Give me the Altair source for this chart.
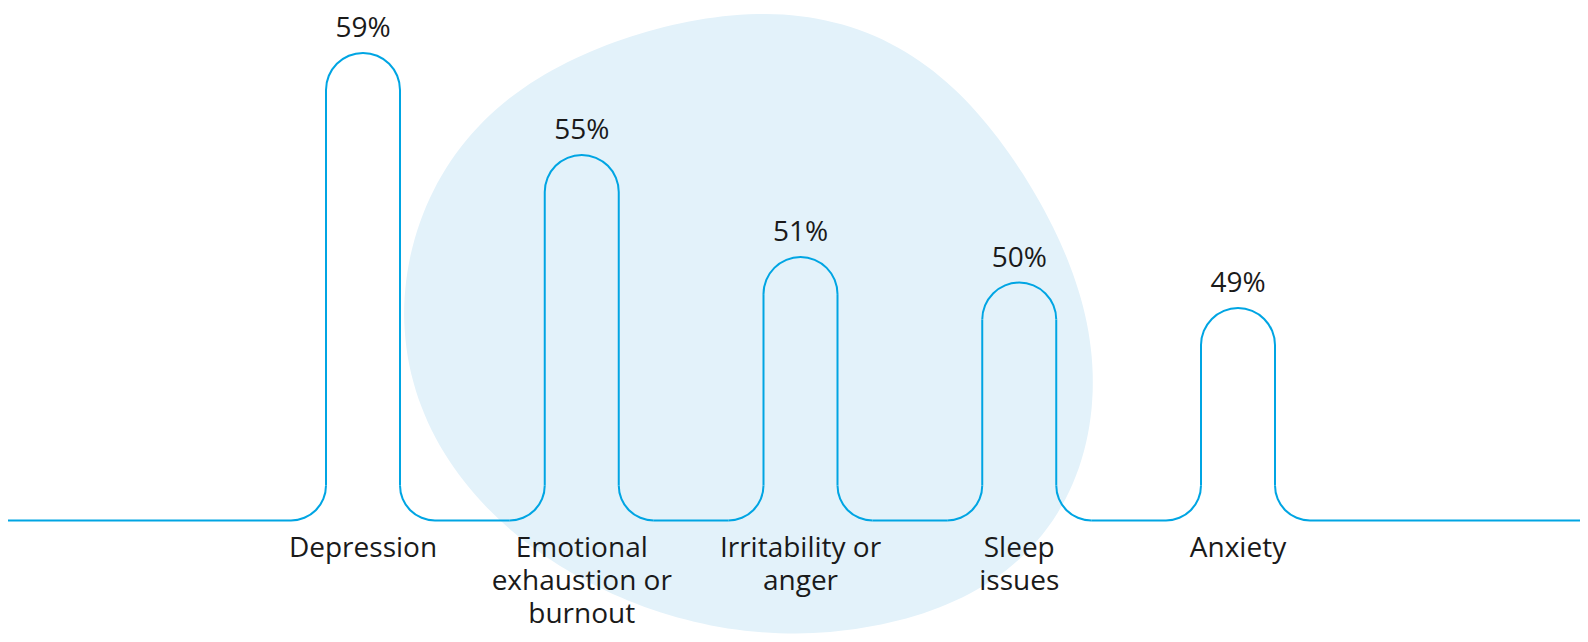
import math
import numpy as np
import altair as alt
import pandas as pd

# ---------------- data ----------------
categories = ["Depression", "Emotional exhaustion or burnout", "Irritability or anger",
              "Sleep issues", "Anxiety"]
label_lines = ["Depression", "Emotional|exhaustion or|burnout", "Irritability or|anger",
               "Sleep|issues", "Anxiety"]
values = [59, 55, 51, 50, 49]
pct_labels = ["59%", "55%", "51%", "50%", "49%"]

# ---------------- style ----------------
W, H = 1572, 626
LINE = "#00a5e3"
BLOB = "#e3f2fa"
TEXT = "#1a1a1a"
FONT = "Open Sans"
SW = 2.0
R_CAP = 37      # radius of the rounded bump top (px)
R_FIL = 35      # radius of the fillet joining bump and baseline (px)
BASE = 40.68    # baseline level on the value scale
Y_DOMAIN = [36.23, 60.76]
X_RANGE = [355, 1230]

# decorative background blob outline (page pixels), smoothed into a symbol path
blob_pts = [(766, 16), (802, 18), (839, 27), (899, 49), (954, 90), (1000, 143), (1041, 205),
            (1069, 266), (1089, 328), (1094, 385), (1089, 430), (1069, 500), (1032, 553),
            (977, 594), (908, 622), (839, 635), (770, 637), (701, 627), (632, 606),
            (564, 573), (504, 528), (472, 495), (440, 450), (417, 401), (405, 348),
            (405, 287), (417, 229), (440, 180), (472, 135), (518, 94), (573, 61),
            (637, 37), (701, 22)]
CX, CY = 740, 320
BLOB_SHIFT = -3


def smooth_path(pts, cx, cy, n=240, keep=7):
    p = np.array(pts, float) - np.array([8.0 + cx, 8.0 + cy - BLOB_SHIFT], float)
    closed = np.vstack([p, p[:1]])
    seg = np.hypot(*np.diff(closed, axis=0).T)
    s = np.concatenate([[0.0], np.cumsum(seg)])
    t = np.linspace(0.0, s[-1], n, endpoint=False)
    z = np.interp(t, s, closed[:, 0]) + 1j * np.interp(t, s, closed[:, 1])
    Z = np.fft.fft(z)
    k = np.fft.fftfreq(n, 1.0 / n)
    Z[np.abs(k) > keep] = 0
    zs = np.fft.ifft(Z)
    parts = [f"{'M' if i == 0 else 'L'}{v.real:.1f},{v.imag:.1f}" for i, v in enumerate(zs)]
    return " ".join(parts) + " Z"


BLOB_PATH = smooth_path(blob_pts, CX, CY)

df = pd.DataFrame({"cat": categories, "value": values, "pct": pct_labels, "label": label_lines})
seg = pd.DataFrame({"src": categories[:-1], "dst": categories[1:]})

x_scale = alt.Scale(type="point", domain=categories, range=X_RANGE, padding=0)
y_scale = alt.Scale(domain=Y_DOMAIN, zero=False, nice=False)
X = alt.X("cat:N", scale=x_scale, axis=None)
Y = alt.Y("value:Q", scale=y_scale, axis=None)
YB = alt.Y(datum=BASE, scale=y_scale, axis=None)

blob = alt.Chart(pd.DataFrame({"k": [0]})).mark_point(
    shape=BLOB_PATH, size=4, filled=True, fill=BLOB, opacity=1, strokeWidth=0
).encode(x=alt.value(CX), y=alt.value(CY))

caps = alt.Chart(df).mark_arc(
    theta=1.5 * math.pi, theta2=2.5 * math.pi,
    radius=R_CAP + SW / 2, radius2=R_CAP - SW / 2,
    color=LINE, yOffset=R_CAP
).encode(x=X, y=Y)

side_l = alt.Chart(df).mark_rule(
    color=LINE, strokeWidth=SW, xOffset=-R_CAP, yOffset=R_CAP, y2Offset=-R_FIL
).encode(x=X, y=Y, y2=alt.Y2(datum=BASE))

side_r = alt.Chart(df).mark_rule(
    color=LINE, strokeWidth=SW, xOffset=R_CAP, yOffset=R_CAP, y2Offset=-R_FIL
).encode(x=X, y=Y, y2=alt.Y2(datum=BASE))

fil_l = alt.Chart(df).mark_arc(
    theta=0.5 * math.pi, theta2=math.pi,
    radius=R_FIL + SW / 2, radius2=R_FIL - SW / 2,
    color=LINE, xOffset=-(R_CAP + R_FIL), yOffset=-R_FIL
).encode(x=X, y=YB)

fil_r = alt.Chart(df).mark_arc(
    theta=math.pi, theta2=1.5 * math.pi,
    radius=R_FIL + SW / 2, radius2=R_FIL - SW / 2,
    color=LINE, xOffset=(R_CAP + R_FIL), yOffset=-R_FIL
).encode(x=X, y=YB)

mid = alt.Chart(seg).mark_rule(
    color=LINE, strokeWidth=SW, xOffset=R_CAP + R_FIL, x2Offset=-(R_CAP + R_FIL)
).encode(x=alt.X("src:N", scale=x_scale, axis=None), x2="dst", y=YB)

left_end = alt.Chart(df.iloc[[0]]).mark_rule(
    color=LINE, strokeWidth=SW, xOffset=-(R_CAP + R_FIL)
).encode(x=X, x2=alt.value(0), y=YB)

right_end = alt.Chart(df.iloc[[-1]]).mark_rule(
    color=LINE, strokeWidth=SW, xOffset=(R_CAP + R_FIL)
).encode(x=X, x2=alt.value(W), y=YB)

pct = alt.Chart(df).mark_text(
    font=FONT, fontSize=28, color=TEXT, baseline="alphabetic", yOffset=-16
).encode(x=X, y=Y, text="pct:N")

cat_txt = alt.Chart(df).transform_calculate(
    lines="split(datum.label, '|')"
).mark_text(
    font=FONT, fontSize=28, color=TEXT, baseline="alphabetic", lineHeight=33, yOffset=36.6
).encode(x=X, y=YB, text="lines:N")

chart = alt.layer(
    blob, left_end, mid, right_end, fil_l, fil_r, side_l, side_r, caps, pct, cat_txt
).properties(
    width=W, height=H, padding=0, autosize=alt.AutoSizeParams(type="none"),
    background="white"
).configure_view(stroke=None)

chart.save("out.html", embed_options={"renderer": "svg", "actions": False})
